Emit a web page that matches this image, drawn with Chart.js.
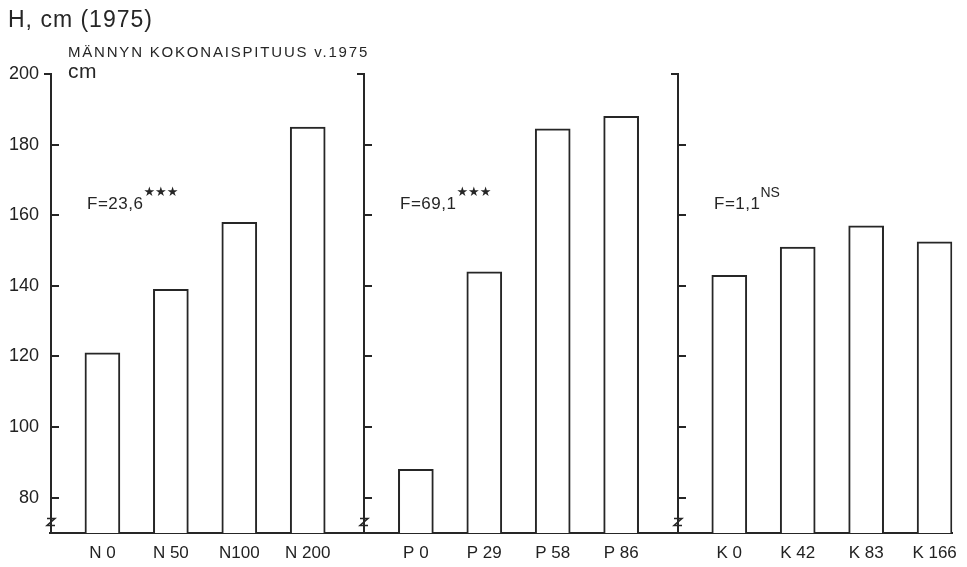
<!DOCTYPE html>
<html>
<head>
<meta charset="utf-8">
<script src="https://cdn.jsdelivr.net/npm/chart.js@4.4.1/dist/chart.umd.min.js"></script>
<style>
    html, body { margin: 0; padding: 0; background: #fff; }
    #wrap { position: relative; width: 967px; height: 567px; }
</style>
</head>
<body>
<div id="wrap"><canvas id="heightChart" width="967" height="567"></canvas></div>
<script>
// data (tree height, cm, 1975)
const nLabels = ['N 0', 'N 50', 'N100', 'N 200'];
const pLabels = ['P 0', 'P 29', 'P 58', 'P 86'];
const kLabels = ['K 0', 'K 42', 'K 83', 'K 166'];
const nHeights = [121, 139, 158, 185];
const pHeights = [88, 144, 184.5, 188];
const kHeights = [143, 151, 157, 152.5];
const fValues = ['F=23,6', 'F=69,1', 'F=1,1'];
const fMarks = ['★★★', '★★★', 'NS'];
const yTicks = [80, 100, 120, 140, 160, 180, 200];

const panels = [
    { labels: nLabels, values: nHeights },
    { labels: pLabels, values: pHeights },
    { labels: kLabels, values: kHeights },
];

// layout of the three panels on one linear x scale (1 unit = bar spacing)
const PANEL_STEP = 4.58;
const AXIS_GAP = 0.766;

const allLabels = [];
const points = [];
panels.forEach((panel, p) => {
    panel.values.forEach((v, i) => {
        points.push({ x: p * PANEL_STEP + i, y: v });
        allLabels.push(panel.labels[i]);
    });
});
const tickPositions = points.map(pt => pt.x);

const FONT = "'Liberation Sans', Arial, Helvetica, sans-serif";
const INK = '#262626';

// draws the panel axes, tick marks, break marks and the texts
const panelAxes = {
    id: 'panelAxes',
    afterDraw(chart) {
        const ctx = chart.ctx;
        const xs = chart.scales.x;
        const ys = chart.scales.y;
        const bottom = chart.chartArea.bottom;
        const top = ys.getPixelForValue(200);

        ctx.save();
        ctx.strokeStyle = INK;
        ctx.fillStyle = INK;
        ctx.lineWidth = 2;

        panels.forEach((panel, p) => {
            const ax = Math.round(xs.getPixelForValue(p * PANEL_STEP - AXIS_GAP)) + 1;

            ctx.beginPath();
            ctx.moveTo(ax - 7, top);
            ctx.lineTo(ax, top);
            ctx.lineTo(ax, bottom);
            ctx.stroke();

            yTicks.forEach(t => {
                if (t === 200) return;
                const y = Math.round(ys.getPixelForValue(t));
                ctx.beginPath();
                ctx.moveTo(ax, y);
                ctx.lineTo(ax + 8, y);
                ctx.stroke();
            });

            // axis break
            const by = ys.getPixelForValue(73);
            ctx.lineWidth = 1.5;
            ctx.beginPath();
            ctx.moveTo(ax - 4, by - 4);
            ctx.lineTo(ax + 4, by - 4);
            ctx.lineTo(ax - 4, by + 3);
            ctx.lineTo(ax + 4, by + 3);
            ctx.stroke();
            ctx.lineWidth = 2;

            // F statistic
            ctx.font = '17px ' + FONT;
            ctx.letterSpacing = '0.5px';
            ctx.textAlign = 'left';
            ctx.textBaseline = 'alphabetic';
            const fx = ax + 36;
            const fy = 209;
            ctx.fillText(fValues[p], fx, fy);
            const w = ctx.measureText(fValues[p]).width;
            if (fMarks[p] === 'NS') {
                ctx.font = '14px ' + FONT;
                ctx.letterSpacing = '0px';
                ctx.fillText(fMarks[p], fx + w, fy - 12);
            } else {
                ctx.font = '13px DejaVu Sans, sans-serif';
                ctx.letterSpacing = '0px';
                ctx.fillText(fMarks[p], fx + w, fy - 13);
            }
        });

        // titles
        ctx.letterSpacing = '1px';
        ctx.font = '23px ' + FONT;
        ctx.fillText('H, cm (1975)', 8, 27);
        ctx.letterSpacing = '1.8px';
        ctx.font = '15px ' + FONT;
        ctx.fillText('MÄNNYN KOKONAISPITUUS v.1975', 68, 57);
        ctx.letterSpacing = '0.5px';
        ctx.font = '21px ' + FONT;
        ctx.fillText('cm', 68, 78);
        ctx.restore();
    }
};

const heightData = {
    datasets: [{
        label: 'H, cm',
        data: points,
        backgroundColor: '#ffffff',
        borderColor: INK,
        borderWidth: 2,
        borderSkipped: 'bottom',
        barThickness: 35,
    }],
};

const heightConfig = {
    type: 'bar',
    data: heightData,
    options: {
        responsive: false,
        animation: false,
        devicePixelRatio: 1,
        layout: {
            padding: { top: 74, right: 10, bottom: 0, left: 0 },
        },
        plugins: {
            legend: { display: false },
            tooltip: { enabled: false },
        },
        scales: {
            x: {
                type: 'linear',
                offset: false,
                min: -AXIS_GAP,
                max: 2 * PANEL_STEP + 3.26,
                grid: { display: false, drawTicks: false },
                border: { display: true, color: INK, width: 2 },
                afterBuildTicks: (scale) => {
                    scale.ticks = tickPositions.map(v => ({ value: v }));
                },
                afterFit: (scale) => { scale.height = 34; },
                ticks: {
                    autoSkip: false,
                    maxRotation: 0,
                    padding: 10,
                    color: '#222',
                    font: { family: FONT, size: 17 },
                    callback: (value, index) => allLabels[index],
                },
            },
            y: {
                min: 70,
                max: 200,
                grid: { display: false, drawTicks: false },
                border: { display: false },
                afterBuildTicks: (scale) => {
                    scale.ticks = yTicks.map(v => ({ value: v }));
                },
                afterFit: (scale) => { scale.width = 50; },
                ticks: {
                    padding: 11,
                    color: '#222',
                    font: { family: FONT, size: 18 },
                },
            },
        },
    },
    plugins: [panelAxes],
};

const heightCtx = document.getElementById('heightChart').getContext('2d');
const heightChart = new Chart(heightCtx, heightConfig);
</script>
</body>
</html>
